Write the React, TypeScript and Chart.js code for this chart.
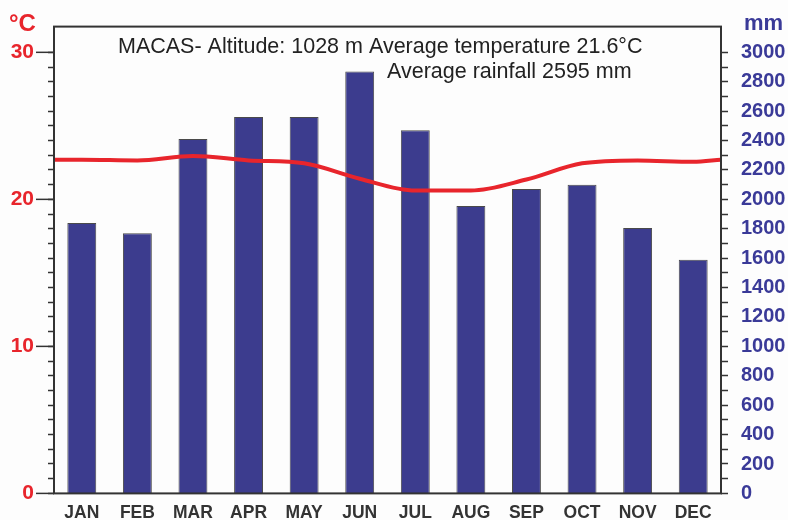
import React, { useEffect, useRef } from "react";
import { Chart, registerables } from "chart.js";

Chart.register(...registerables);

const months = ["JAN", "FEB", "MAR", "APR", "MAY", "JUN", "JUL", "AUG", "SEP", "OCT", "NOV", "DEC"];
const rainfallMm = [1840, 1770, 2410, 2560, 2560, 2870, 2470, 1955, 2070, 2100, 1805, 1590];
const temperatureC = [22.7, 22.65, 22.95, 22.65, 22.45, 21.4, 20.6, 20.6, 21.35, 22.45, 22.65, 22.55];
const temperatureAtYearEdge = 22.7;
const tempTickLabels = [0, 10, 20, 30];
const titleLine1 = "MACAS- Altitude: 1028 m Average temperature 21.6°C";
const titleLine2 = "Average rainfall 2595 mm";

const FONT = "'Liberation Sans', Arial, Helvetica, sans-serif";
const RED = "#e8252c";
const BLUE = "#3a3a98";
const BAR = "#3c3c8e";
const FRAME = "#333333";

export default function App() {
  const ref = useRef<HTMLCanvasElement | null>(null);

  useEffect(() => {
    if (!ref.current) return;
    const linePoints = [
      { x: 0, y: temperatureAtYearEdge },
      ...temperatureC.map((t, i) => ({ x: i + 0.5, y: t })),
      { x: months.length, y: temperatureAtYearEdge },
    ];

    const decor = {
      id: "decor",
      afterDraw(chart: any) {
        const { ctx, chartArea } = chart;
        const yL = chart.scales.y;
        ctx.save();
        ctx.strokeStyle = FRAME;
        ctx.lineWidth = 2;
        ctx.strokeRect(chartArea.left, chartArea.top, chartArea.right - chartArea.left, chartArea.bottom - chartArea.top);
        ctx.lineWidth = 1.5;
        tempTickLabels.forEach((v) => {
          const y = yL.getPixelForValue(v);
          ctx.beginPath();
          ctx.moveTo(chartArea.left - 18, y);
          ctx.lineTo(chartArea.left, y);
          ctx.stroke();
        });
        ctx.textBaseline = "middle";
        ctx.textAlign = "left";
        ctx.fillStyle = RED;
        ctx.font = `bold 24px ${FONT}`;
        ctx.fillText("°C", 9, 24);
        ctx.fillStyle = BLUE;
        ctx.font = `bold 22px ${FONT}`;
        ctx.fillText("mm", 744, 24);
        ctx.fillStyle = "#222222";
        ctx.font = `21.5px ${FONT}`;
        ctx.fillText(titleLine1, 118, 47);
        ctx.fillText(titleLine2, 387, 72);
        ctx.restore();
      },
    };

    const chart = new Chart(ref.current, {
      data: {
        labels: months,
        datasets: [
          {
            type: "line",
            label: "Temperature",
            data: linePoints as any,
            xAxisID: "xLine",
            yAxisID: "y",
            borderColor: RED,
            borderWidth: 4,
            pointRadius: 0,
            cubicInterpolationMode: "monotone",
            order: 0,
          } as any,
          {
            type: "bar",
            label: "Rainfall",
            data: rainfallMm,
            xAxisID: "x",
            yAxisID: "y1",
            backgroundColor: BAR,
            borderColor: "#4a4a4a",
            borderWidth: 1,
            grouped: false,
            barPercentage: 0.52,
            categoryPercentage: 1,
            order: 1,
          } as any,
        ],
      },
      options: {
        responsive: false,
        animation: false,
        layout: { padding: { top: 22, left: 0, right: 0, bottom: 0 } },
        plugins: { legend: { display: false }, tooltip: { enabled: false }, title: { display: false } },
        scales: {
          x: {
            type: "category",
            offset: true,
            grid: { display: false, drawTicks: false },
            border: { display: false },
            ticks: { color: "#333333", font: { family: FONT, weight: "bold", size: 17.5 }, padding: 9, autoSkip: false, maxRotation: 0 },
            afterFit: (s: any) => { s.height = 26; },
          },
          xLine: { type: "linear", min: 0, max: months.length, display: false },
          y: {
            position: "left",
            min: 0,
            max: 31.75,
            grid: { drawOnChartArea: false, tickLength: 6, tickColor: FRAME, tickWidth: 1.5 },
            border: { display: false },
            ticks: {
              stepSize: 1,
              autoSkip: false,
              padding: 14,
              color: RED,
              font: { family: FONT, weight: "bold", size: 21 },
              callback: (v: any) => (tempTickLabels.includes(Number(v)) ? String(v) : ""),
            },
            afterBuildTicks: (s: any) => { s.ticks = s.ticks.filter((t: any) => t.value <= 30); },
            afterFit: (s: any) => { s.width = 54; },
          },
          y1: {
            position: "right",
            min: 0,
            max: 3175,
            grid: { drawOnChartArea: false, tickLength: 7, tickColor: FRAME, tickWidth: 1.5 },
            border: { display: false },
            ticks: {
              stepSize: 100,
              autoSkip: false,
              padding: 13,
              color: BLUE,
              font: { family: FONT, weight: "bold", size: 20 },
              callback: (v: any) => (Number(v) % 200 === 0 ? String(v) : ""),
            },
            afterBuildTicks: (s: any) => { s.ticks = s.ticks.filter((t: any) => t.value <= 3000); },
            afterFit: (s: any) => { s.width = 67; },
          },
        },
      } as any,
      plugins: [decor],
    });
    return () => chart.destroy();
  }, []);

  return (
    <div style={{ position: "absolute", left: 0, top: 0, width: 788, height: 520, background: "#fdfdfd" }}>
      <canvas ref={ref} width={788} height={520} />
    </div>
  );
}
